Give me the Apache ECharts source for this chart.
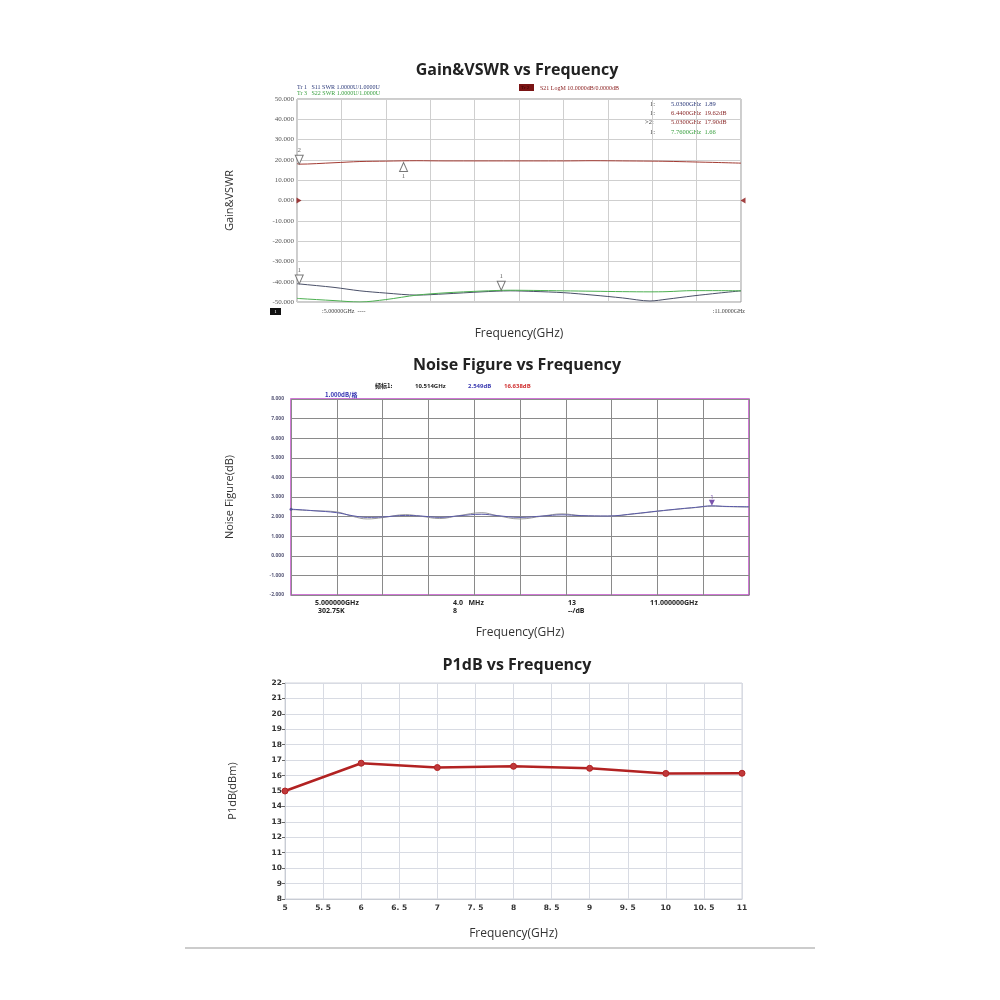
<!DOCTYPE html>
<html>
<head>
<meta charset="utf-8">
<script src="https://cdn.jsdelivr.net/npm/echarts@6/dist/echarts.min.js"></script>
<style>html,body{margin:0;padding:0;background:#fff;}#c{width:1000px;height:1000px;}</style>
</head>
<body>
<div id="c"></div>
<script>
// ---------- Chart 1: Gain & VSWR ----------
const gvFreq = [5.0, 5.03, 5.5, 5.85, 6.2, 6.62, 7.0, 7.5, 7.88, 8.2, 8.6, 9.0, 9.4, 9.77, 10.0, 10.35, 10.7, 11.0];
const s21 = [18.2, 17.9, 18.6, 19.2, 19.4, 19.6, 19.5, 19.5, 19.5, 19.5, 19.5, 19.6, 19.5, 19.4, 19.3, 19.0, 18.7, 18.4];
const s11 = [-41.0, -41.1, -42.8, -44.5, -45.6, -46.6, -46.0, -45.0, -44.5, -44.8, -45.4, -46.6, -48.0, -49.5, -48.6, -47.0, -45.6, -44.5];
const s22 = [-48.2, -48.3, -49.3, -50.0, -48.8, -46.6, -45.5, -44.6, -44.2, -44.3, -44.5, -44.7, -44.9, -45.0, -44.9, -44.4, -44.4, -44.5];
const gvDownMarkers = [[5.03, -41.1, '1'], [5.03, 17.9, '2'], [7.76, -44.2, '1']];
const gvUpMarkers = [[6.44, 19.62, '1']];
const gvRefLevel = [[5, 0], [11, 0]];

// ---------- Chart 2: Noise Figure ----------
const nfFreq = [5.0, 5.3, 5.6, 5.8, 6.0, 6.2, 6.5, 6.7, 6.95, 7.2, 7.5, 7.7, 8.0, 8.3, 8.55, 8.8, 9.15, 9.5, 9.8, 10.1, 10.3, 10.514, 10.7, 11.0];
const nfBlue = [2.38, 2.3, 2.2, 2.05, 1.96, 1.98, 2.06, 2.03, 1.96, 2.04, 2.12, 2.05, 1.96, 2.03, 2.09, 2.05, 2.03, 2.15, 2.28, 2.4, 2.47, 2.55, 2.52, 2.5];
const nfGray = [2.36, 2.3, 2.24, 2.02, 1.88, 1.95, 2.1, 2.02, 1.9, 2.05, 2.2, 2.05, 1.88, 2.03, 2.14, 2.05, 2.02, 2.14, 2.27, 2.39, 2.46, 2.53, 2.51, 2.49];
const nfMarker = [[10.514, 2.549, '1']];

// ---------- Chart 3: P1dB ----------
const p1Freq = [5, 6, 7, 8, 9, 10, 11];
const p1dB = [15.0, 16.8, 16.52, 16.6, 16.47, 16.14, 16.15];

const serif = '"Liberation Serif","DejaVu Serif",serif';
const sans = '"Open Sans","Noto Sans",sans-serif';

function markerData(data, color, labelPos) {
  return data.map(d => ({
    value: [d[0], d[1]],
    label: {show: true, formatter: d[2] || '', position: labelPos, distance: 1, fontSize: 7, color: color, fontFamily: serif}
  }));
}

const chart = echarts.init(document.getElementById('c'));
const txt = (text, x, y, opts) => ({
  type: 'text', x: x, y: y,
  style: Object.assign({text: text, fill: '#333', font: '7px ' + serif, textAlign: 'left', textVerticalAlign: 'middle'}, opts || {})
});

const option = {
  animation: false,
  backgroundColor: '#fff',
  grid: [
    {left: 297, top: 99, width: 444, height: 203, show: true, borderColor: '#9a9a9a', borderWidth: 1},
    {left: 291, top: 399, width: 458, height: 196, show: true, borderColor: '#c04cc8', borderWidth: 1.5},
    {left: 285, top: 683, width: 457, height: 216, show: true, borderColor: '#d0d3da', borderWidth: 1}
  ],
  xAxis: [
    {gridIndex: 0, type: 'value', min: 5, max: 11, interval: 0.6,
      name: 'Frequency(GHz)', nameLocation: 'middle', nameGap: 26,
      nameTextStyle: {fontFamily: sans, fontSize: 12, color: '#333'},
      axisLine: {show: false}, axisTick: {show: false}, axisLabel: {show: false},
      splitLine: {lineStyle: {color: '#cfcfcf', width: 1}}},
    {gridIndex: 1, type: 'value', min: 5, max: 11, interval: 0.6,
      name: 'Frequency(GHz)', nameLocation: 'middle', nameGap: 32,
      nameTextStyle: {fontFamily: sans, fontSize: 12, color: '#333'},
      axisLine: {show: false}, axisTick: {show: false}, axisLabel: {show: false},
      splitLine: {lineStyle: {color: '#8a8a8a', width: 1}}},
    {gridIndex: 2, type: 'value', min: 5, max: 11, interval: 0.5,
      name: 'Frequency(GHz)', nameLocation: 'middle', nameGap: 29,
      nameTextStyle: {fontFamily: sans, fontSize: 12, color: '#333'},
      axisLine: {show: true, lineStyle: {color: '#c8ccd4'}}, axisTick: {show: false},
      axisLabel: {margin: 5, fontSize: 7.5, fontWeight: 'bold', color: '#333', fontFamily: '"DejaVu Sans",sans-serif',
        formatter: v => (Math.abs(v - Math.round(v)) < 1e-6 ? String(Math.round(v)) : String(v).replace('.', '. '))},
      splitLine: {lineStyle: {color: '#d8dbe3', width: 1}}}
  ],
  yAxis: [
    {gridIndex: 0, type: 'value', min: -50, max: 50, interval: 10,
      name: 'Gain&VSWR', nameLocation: 'middle', nameGap: 62, nameRotate: 90,
      nameTextStyle: {fontFamily: sans, fontSize: 11, color: '#333'},
      axisLine: {show: false}, axisTick: {show: false},
      axisLabel: {margin: 3, fontSize: 7, color: '#555', fontFamily: serif, formatter: v => v.toFixed(3)},
      splitLine: {lineStyle: {color: '#cfcfcf', width: 1}}},
    {gridIndex: 1, type: 'value', min: -2, max: 8, interval: 1,
      name: 'Noise Figure(dB)', nameLocation: 'middle', nameGap: 56, nameRotate: 90,
      nameTextStyle: {fontFamily: sans, fontSize: 11, color: '#333'},
      axisLine: {show: false}, axisTick: {show: false},
      axisLabel: {margin: 7, fontSize: 5, color: '#5a5a7a', fontFamily: sans, fontWeight: 'bold', formatter: v => v.toFixed(3)},
      splitLine: {lineStyle: {color: '#8a8a8a', width: 1}}},
    {gridIndex: 2, type: 'value', min: 8, max: 22, interval: 1,
      name: 'P1dB(dBm)', nameLocation: 'middle', nameGap: 47, nameRotate: 90,
      nameTextStyle: {fontFamily: sans, fontSize: 11, color: '#333'},
      axisLine: {show: true, lineStyle: {color: '#c8ccd4'}},
      axisTick: {show: true, length: 3, lineStyle: {color: '#666'}},
      axisLabel: {margin: 3, fontSize: 7.5, fontWeight: 'bold', color: '#333', fontFamily: '"DejaVu Sans",sans-serif'},
      splitLine: {lineStyle: {color: '#d8dbe3', width: 1}}}
  ],
  series: [
    {name: 'S21', type: 'line', xAxisIndex: 0, yAxisIndex: 0, showSymbol: false, smooth: 0.3,
      lineStyle: {color: '#a23a32', width: 1}, data: gvFreq.map((f, i) => [f, s21[i]])},
    {name: 'S11', type: 'line', xAxisIndex: 0, yAxisIndex: 0, showSymbol: false, smooth: 0.3,
      lineStyle: {color: '#4a5068', width: 1}, data: gvFreq.map((f, i) => [f, s11[i]])},
    {name: 'S22', type: 'line', xAxisIndex: 0, yAxisIndex: 0, showSymbol: false, smooth: 0.3,
      lineStyle: {color: '#4caf50', width: 1}, data: gvFreq.map((f, i) => [f, s22[i]])},
    {name: 'gvDown', type: 'scatter', xAxisIndex: 0, yAxisIndex: 0, clip: false, z: 5,
      symbol: 'path://M0,0L10,0L5,10Z', symbolSize: [8, 9], symbolOffset: [0, '-50%'],
      itemStyle: {color: '#fff', borderColor: '#555', borderWidth: 1},
      data: markerData(gvDownMarkers, '#444', 'top')},
    {name: 'gvUp', type: 'scatter', xAxisIndex: 0, yAxisIndex: 0, clip: false, z: 5,
      symbol: 'path://M5,0L10,10L0,10Z', symbolSize: [8, 9], symbolOffset: [0, '70%'],
      itemStyle: {color: '#fff', borderColor: '#555', borderWidth: 1},
      data: markerData(gvUpMarkers, '#444', 'bottom')},
    {name: 'ref', type: 'scatter', xAxisIndex: 0, yAxisIndex: 0, clip: false, z: 6,
      symbolSize: [5, 6], itemStyle: {color: '#8b1010'},
      data: [
        {value: gvRefLevel[0], symbol: 'path://M0,0L10,5L0,10Z', symbolOffset: [2, 0]},
        {value: gvRefLevel[1], symbol: 'path://M10,0L0,5L10,10Z', symbolOffset: [2, 0]}
      ]},
    {name: 'NF gray', type: 'line', xAxisIndex: 1, yAxisIndex: 1, showSymbol: false, smooth: 0.4,
      lineStyle: {color: '#9a9a9a', width: 1}, data: nfFreq.map((f, i) => [f, nfGray[i]])},
    {name: 'NF', type: 'line', xAxisIndex: 1, yAxisIndex: 1, showSymbol: false, smooth: 0.4,
      lineStyle: {color: '#5a5aa8', width: 1}, data: nfFreq.map((f, i) => [f, nfBlue[i]])},
    {name: 'NF start', type: 'scatter', xAxisIndex: 1, yAxisIndex: 1, clip: false, z: 5,
      symbol: 'circle', symbolSize: 3, itemStyle: {color: '#4a4a90'},
      data: [[nfFreq[0], nfBlue[0]]]},
    {name: 'NF marker', type: 'scatter', xAxisIndex: 1, yAxisIndex: 1, clip: false, z: 5,
      symbol: 'path://M0,0L10,0L5,10Z', symbolSize: [6, 6], symbolOffset: [0, '-50%'],
      itemStyle: {color: '#5a2a9a'},
      data: nfMarker.map(d => ({value: [d[0], d[1]],
        label: {show: true, formatter: d[2], position: 'top', distance: 0, fontSize: 6, color: '#5a2a9a', fontFamily: sans}}))},
    {name: 'P1dB', type: 'line', xAxisIndex: 2, yAxisIndex: 2, symbol: 'circle', symbolSize: 6, clip: false,
      lineStyle: {color: '#b22222', width: 2.5}, itemStyle: {color: '#c0393b', borderColor: '#b22222', borderWidth: 1},
      data: p1Freq.map((f, i) => [f, p1dB[i]])}
  ],
  graphic: [
    txt('Gain&VSWR vs Frequency', 517, 70, {font: 'bold 16px ' + sans, fill: '#222', textAlign: 'center'}),
    txt('Noise Figure vs Frequency', 517, 365, {font: 'bold 16px ' + sans, fill: '#222', textAlign: 'center'}),
    txt('P1dB vs Frequency', 517, 665, {font: 'bold 16px ' + sans, fill: '#222', textAlign: 'center'}),
    txt('Tr 1   S11 SWR 1.0000U/1.0000U', 297, 87, {fill: '#2c3a7a', font: '6px ' + serif}),
    txt('Tr 3   S22 SWR 1.0000U/1.0000U', 297, 93, {fill: '#3aa040', font: '6px ' + serif}),
    {type: 'rect', shape: {x: 519, y: 84, width: 15, height: 7}, style: {fill: '#7a1414'}},
    txt('Tr 2', 521, 88, {fill: '#3a0000', font: '5px ' + serif}),
    txt('S21 LogM 10.0000dB/0.0000dB', 540, 88, {fill: '#8b2020', font: '6px ' + serif}),
    txt('1:', 650, 104, {fill: '#444', font: '6.5px ' + serif}),
    txt('5.0300GHz  1.89', 671, 104, {fill: '#2c3a7a', font: '6.5px ' + serif}),
    txt('1:', 650, 113, {fill: '#444', font: '6.5px ' + serif}),
    txt('6.4400GHz  19.62dB', 671, 113, {fill: '#8b2a2a', font: '6.5px ' + serif}),
    txt('>2:', 645, 122.5, {fill: '#444', font: '6.5px ' + serif}),
    txt('5.0300GHz  17.90dB', 671, 122.5, {fill: '#8b2a2a', font: '6.5px ' + serif}),
    txt('1:', 650, 132, {fill: '#444', font: '6.5px ' + serif}),
    txt('7.7600GHz  1.66', 671, 132, {fill: '#3aa040', font: '6.5px ' + serif}),
    {type: 'rect', shape: {x: 270, y: 308, width: 11, height: 7}, style: {fill: '#111'}},
    txt('1', 275.5, 311.5, {fill: '#fff', font: '5px ' + serif, textAlign: 'center'}),
    txt(':5.00000GHz  ----', 322, 311, {fill: '#444', font: '6px ' + serif}),
    txt(':11.0000GHz', 745, 311, {fill: '#444', font: '6px ' + serif, textAlign: 'right'}),
    txt('频标1:', 375, 386, {fill: '#222', font: 'bold 6px "Noto Sans CJK SC",sans-serif'}),
    txt('10.514GHz', 415, 386, {fill: '#222', font: 'bold 6px ' + sans}),
    txt('2.549dB', 468, 386, {fill: '#3a3ab0', font: 'bold 6px ' + sans}),
    txt('16.638dB', 504, 386, {fill: '#d03030', font: 'bold 6px ' + sans}),
    txt('1.000dB/格', 325, 395, {fill: '#3030b0', font: 'bold 6px "Noto Sans CJK SC",sans-serif'}),
    txt('5.000000GHz', 315, 603, {fill: '#222', font: 'bold 7px ' + sans}),
    txt('302.75K', 318, 611, {fill: '#222', font: 'bold 7px ' + sans}),
    txt('4.0   MHz', 453, 603, {fill: '#222', font: 'bold 7px ' + sans}),
    txt('8', 453, 611, {fill: '#222', font: 'bold 7px ' + sans}),
    txt('13', 568, 603, {fill: '#222', font: 'bold 7px ' + sans}),
    txt('--/dB', 568, 611, {fill: '#222', font: 'bold 7px ' + sans}),
    txt('11.000000GHz', 650, 603, {fill: '#222', font: 'bold 7px ' + sans}),
    {type: 'line', shape: {x1: 185, y1: 948, x2: 815, y2: 948}, style: {stroke: '#999', lineWidth: 1}}
  ]
};
chart.setOption(option);
</script>
</body>
</html>
